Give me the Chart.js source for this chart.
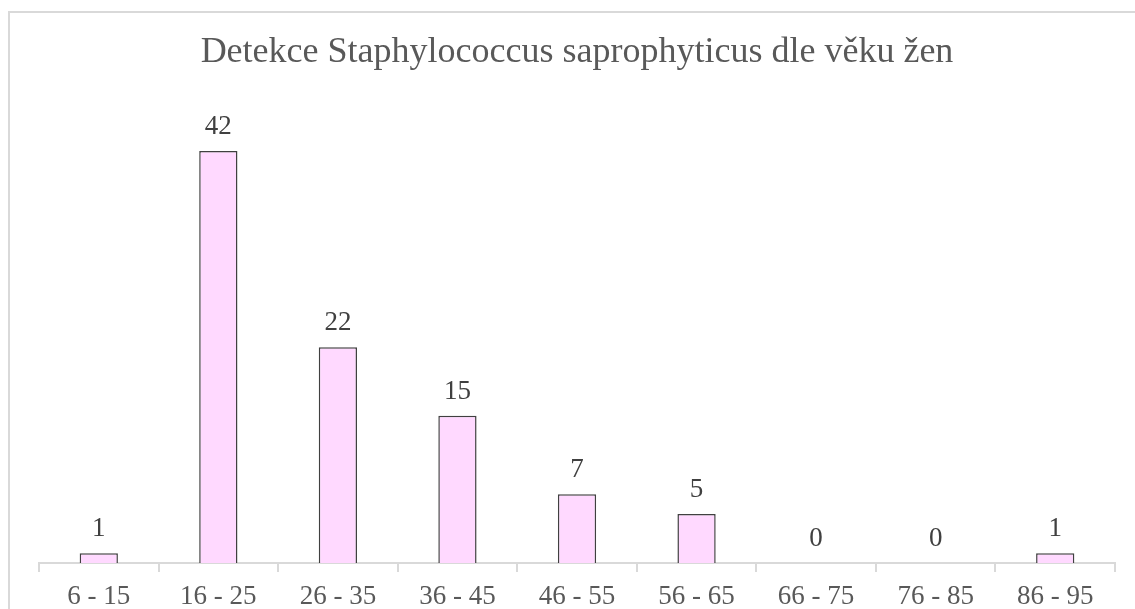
<!DOCTYPE html>
<html>
<head>
<meta charset="utf-8">
<script src="https://cdn.jsdelivr.net/npm/chart.js@4/dist/chart.umd.min.js"></script>
<style>
  html, body { margin: 0; padding: 0; background: #fff; overflow: hidden; }
  #wrap { position: absolute; left: 0; top: 0; width: 1135px; height: 609px; }
</style>
</head>
<body>
<div id="wrap"><canvas id="ageChart"></canvas></div>
<script>
// age groups and counts
var ageGroups = ['6 - 15', '16 - 25', '26 - 35', '36 - 45', '46 - 55', '56 - 65', '66 - 75', '76 - 85', '86 - 95'];
var detections = [1, 42, 22, 15, 7, 5, 0, 0, 1];

var serif = "'Liberation Serif', 'Times New Roman', serif";

// light grey frame round the chart, cut off at right and bottom like the original
var framePlugin = {
    id: 'frame',
    beforeDraw: function (chart) {
        var c = chart.ctx;
        c.save();
        c.strokeStyle = '#d9d9d9';
        c.lineWidth = 2;
        c.strokeRect(9, 12, 1200, 700);
        c.restore();
    }
};

// value labels above each bar
var valueLabels = {
    id: 'valueLabels',
    afterDatasetsDraw: function (chart) {
        var c = chart.ctx;
        var meta = chart.getDatasetMeta(0);
        c.save();
        c.font = '27px ' + serif;
        c.fillStyle = '#404040';
        c.textAlign = 'center';
        c.textBaseline = 'alphabetic';
        meta.data.forEach(function (bar, i) {
            c.fillText(String(detections[i]), bar.x, bar.y - 17);
        });
        c.restore();
    }
};

var ctx = document.getElementById('ageChart');
new Chart(ctx.getContext('2d'), {
    type: 'bar',
    data: {
        labels: ageGroups,
        datasets: [{
            data: detections,
            backgroundColor: '#ffd9ff',
            borderColor: '#404040',
            borderWidth: 1.5,
            barPercentage: 0.32,
            categoryPercentage: 1
        }]
    },
    options: {
        responsive: true,
        maintainAspectRatio: false,
        animation: false,
        // tick padding is counted twice in the axis height, so pull the bottom in
        layout: { padding: { left: 39, right: 20, top: 0, bottom: -12 } },
        plugins: {
            legend: { display: false },
            tooltip: { enabled: false },
            title: {
                display: true,
                text: 'Detekce Staphylococcus saprophyticus dle věku žen',
                color: '#595959',
                font: { family: serif, size: 36, weight: 'normal', lineHeight: 1.2 },
                padding: { top: 31.4, bottom: 46.9 }
            }
        },
        scales: {
            x: {
                grid: {
                    offset: true,
                    drawOnChartArea: false,
                    drawTicks: true,
                    tickLength: 9,
                    color: '#d9d9d9',
                    lineWidth: 2
                },
                border: { color: '#d9d9d9', width: 2 },
                ticks: {
                    color: '#595959',
                    font: { family: serif, size: 27, lineHeight: 1 },
                    padding: 11,
                    maxRotation: 0
                }
            },
            y: {
                display: false,
                min: 0,
                max: 45
            }
        }
    },
    plugins: [framePlugin, valueLabels]
});
</script>
</body>
</html>
